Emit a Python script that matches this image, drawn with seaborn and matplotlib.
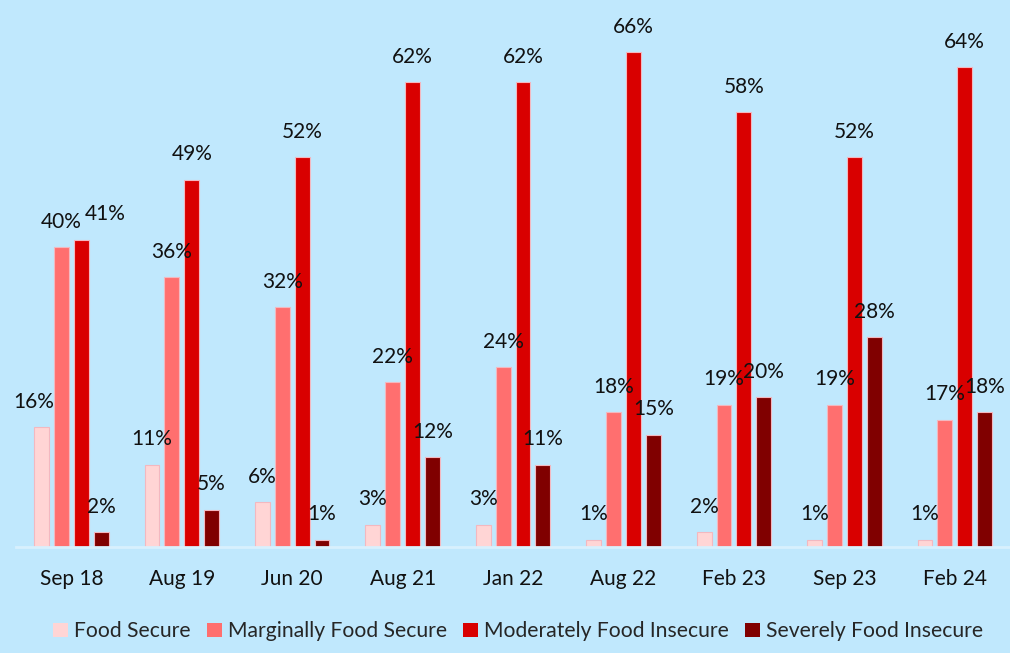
import matplotlib
matplotlib.use("Agg")
import matplotlib.pyplot as plt
import seaborn as sns
import pandas as pd
from matplotlib.patches import Patch

periods = ["Sep 18", "Aug 19", "Jun 20", "Aug 21", "Jan 22", "Aug 22", "Feb 23", "Sep 23", "Feb 24"]
series_names = ["Food Secure", "Marginally Food Secure", "Moderately Food Insecure", "Severely Food Insecure"]
food_secure = [16, 11, 6, 3, 3, 1, 2, 1, 1]
marginally_secure = [40, 36, 32, 22, 24, 18, 19, 19, 17]
moderately_insecure = [41, 49, 52, 62, 62, 66, 58, 52, 64]
severely_insecure = [2, 5, 1, 12, 11, 15, 20, 28, 18]

colors = ["#FFD5D5", "#FF6F6F", "#D90000", "#800000"]
bg = "#C0E8FD"

rows = []
for name, vals in zip(series_names, [food_secure, marginally_secure, moderately_insecure, severely_insecure]):
    for p, v in zip(periods, vals):
        rows.append({"period": p, "series": name, "value": v})
df = pd.DataFrame(rows)

sns.set_theme(style="white")
plt.rcParams["font.family"] = ["Lato", "DejaVu Sans"]

fig = plt.figure(figsize=(10.1, 6.53), dpi=100, facecolor=bg)
ax = fig.add_axes([0.016, 1 - 547 / 653, 0.984, (547 - 22) / 653])
ax.set_facecolor(bg)

sns.barplot(data=df, x="period", y="value", hue="series", order=periods,
            hue_order=series_names, palette=colors, saturation=1, width=0.72, gap=0.25,
            edgecolor="#F3B8C0", linewidth=0.8, ax=ax, legend=False)

ax.set_ylim(0, 70)
ax.set_xlim(-0.5, len(periods) - 0.5)
ax.set_xlabel("")
ax.set_ylabel("")
ax.set_yticks([])
for s in ["top", "right", "left"]:
    ax.spines[s].set_visible(False)
ax.spines["bottom"].set_color("#D8F0FD")
ax.spines["bottom"].set_linewidth(2)
ax.tick_params(axis="x", length=0, pad=16, labelsize=15, colors="#111111")

nudges = {("Sep 18", "Moderately Food Insecure"): 17, ("Sep 18", "Food Secure"): -6}

for cont, name in zip(ax.containers, series_names):
    for bar, p in zip(cont, periods):
        h = bar.get_height()
        dx = nudges.get((p, name), 0)
        ax.annotate(f"{int(round(h))}%", (bar.get_x() + bar.get_width() / 2, h),
                    xytext=(dx, 11), textcoords="offset points",
                    ha="center", va="bottom", fontsize=15, color="#111111")

handles = [Patch(facecolor=c, edgecolor="none") for c in colors]
fig.legend(handles, series_names, loc="center", bbox_to_anchor=(0.513, 0.033), ncol=4,
           frameon=False, fontsize=15.2, handlelength=0.7, handleheight=0.7,
           handletextpad=0.3, columnspacing=0.75)

fig.savefig("out.png", dpi=100, facecolor=bg)
